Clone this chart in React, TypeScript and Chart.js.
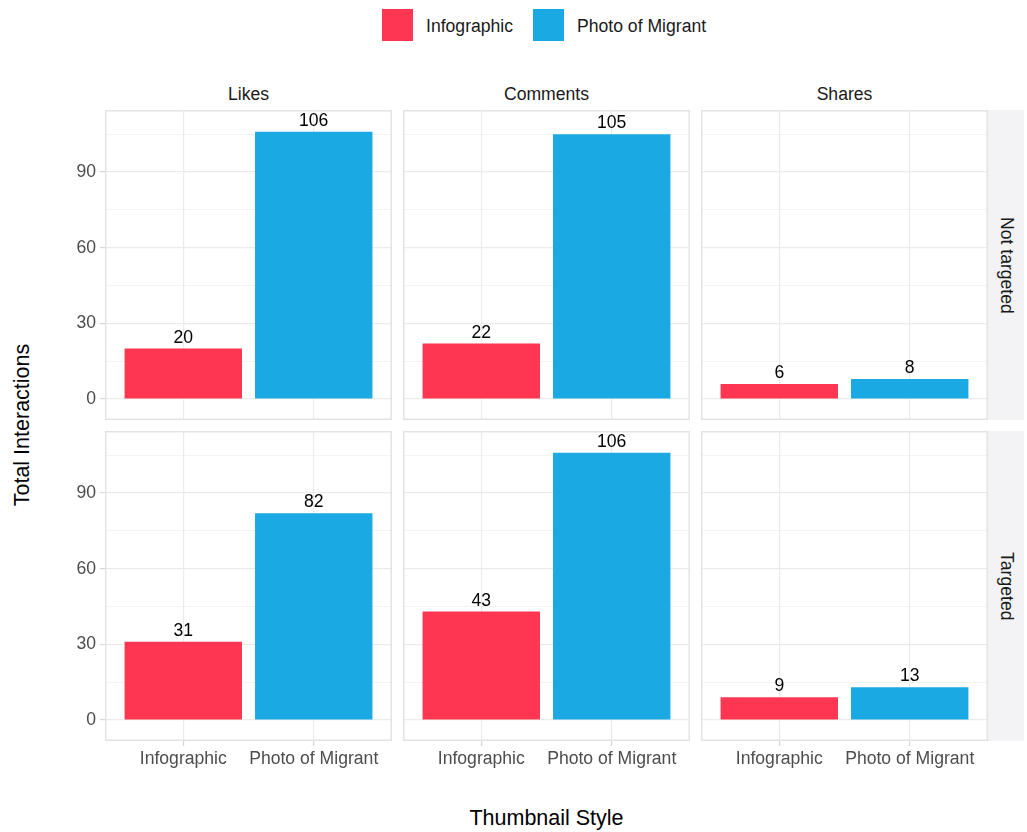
import React, { useEffect, useRef } from 'react';
import { Chart, registerables } from 'chart.js';
Chart.register(...registerables);

// ---- data ----
const metrics = ['Likes', 'Comments', 'Shares'];
const audiences = ['Not targeted', 'Targeted'];
const thumbnailStyles = ['Infographic', 'Photo of Migrant'];
const notTargetedInfographic = [20, 22, 6];
const notTargetedPhoto = [106, 105, 8];
const targetedInfographic = [31, 43, 9];
const targetedPhoto = [82, 106, 13];
const yTickValues = [0, 15, 30, 45, 60, 75, 90, 105];
const styleColors = ['#FF3651', '#1AA9E3'];

// ---- layout ----
const FONT = '"Liberation Sans", Arial, Helvetica, sans-serif';
const FS = 17.6;
const colLeft = [105, 403, 701];
const rowTop = [110, 431];
const panelW = 287;
const panelH = 310;
const AXW = 60;
const AXH = 40;

const seriesFor = (row: number, col: number): number[] =>
  row === 0
    ? [notTargetedInfographic[col], notTargetedPhoto[col]]
    : [targetedInfographic[col], targetedPhoto[col]];

function Panel({ row, col }: { row: number; col: number }) {
  const ref = useRef<HTMLCanvasElement | null>(null);
  const values = seriesFor(row, col);
  const width = panelW + AXW;
  const height = panelH + (row === 1 ? AXH : 0);

  useEffect(() => {
    if (!ref.current) return;
    const labelPlugin = {
      id: 'labelsAndBorder',
      afterDatasetsDraw(chart: any) {
        const ctx = chart.ctx;
        const meta = chart.getDatasetMeta(0);
        ctx.save();
        ctx.font = `${FS}px ${FONT}`;
        ctx.fillStyle = '#000000';
        ctx.textAlign = 'center';
        ctx.textBaseline = 'alphabetic';
        meta.data.forEach((bar: any, i: number) => {
          ctx.fillText(String(values[i]), bar.x, bar.y - 6);
        });
        ctx.restore();
      },
      afterDraw(chart: any) {
        const ctx = chart.ctx;
        const a = chart.chartArea;
        ctx.save();
        ctx.strokeStyle = '#E3E3E3';
        ctx.lineWidth = 1.5;
        ctx.strokeRect(a.left + 0.75, a.top + 0.75, a.right - a.left - 1.5, a.bottom - a.top - 1.5);
        ctx.restore();
      },
    };
    const chart = new Chart(ref.current, {
      type: 'bar',
      data: {
        datasets: [
          {
            data: values.map((v, i) => ({ x: i + 1, y: v })),
            backgroundColor: styleColors,
            borderWidth: 0,
            barPercentage: 0.9,
            categoryPercentage: 1,
          },
        ],
      },
      options: {
        responsive: false,
        animation: false,
        devicePixelRatio: 1,
        events: [],
        layout: { padding: 0 },
        plugins: { legend: { display: false }, tooltip: { enabled: false } },
        scales: {
          x: {
            type: 'linear',
            offset: false,
            min: 0.4,
            max: 2.6,
            afterBuildTicks: (s: any) => {
              s.ticks = [{ value: 1 }, { value: 2 }];
            },
            ticks: {
              display: row === 1,
              autoSkip: false,
              maxRotation: 0,
              padding: 3,
              color: '#4D4D4D',
              font: { family: FONT, size: FS },
              callback: (v: any) => thumbnailStyles[Number(v) - 1] ?? '',
            },
            grid: {
              offset: false,
              color: '#EBEBEB',
              lineWidth: 1.2,
              drawTicks: row === 1,
              tickLength: 5,
              tickColor: '#D6D6D6',
            },
            border: { display: false },
            afterFit: (s: any) => {
              s.height = row === 1 ? AXH : 0;
              s.paddingLeft = 0;
              s.paddingRight = 0;
            },
          } as any,
          y: {
            type: 'linear',
            min: -8.3,
            max: 114.6,
            afterBuildTicks: (s: any) => {
              s.ticks = yTickValues.map((v) => ({ value: v }));
            },
            ticks: {
              display: col === 0,
              padding: 4,
              color: '#4D4D4D',
              font: { family: FONT, size: FS },
              callback: (v: any) => (Number(v) % 30 === 0 ? String(v) : ''),
            },
            grid: {
              color: '#EBEBEB',
              lineWidth: (c: any) => (c.tick && c.tick.value % 30 === 0 ? 1.2 : 0.6),
              drawTicks: col === 0,
              tickLength: 5,
              tickColor: (c: any) => (c.tick && c.tick.value % 30 === 0 ? '#D6D6D6' : 'rgba(0,0,0,0)'),
            },
            border: { display: false },
            afterFit: (s: any) => {
              s.width = AXW;
              s.paddingTop = 0;
              s.paddingBottom = 0;
            },
          } as any,
        },
      },
      plugins: [labelPlugin],
    } as any);
    return () => chart.destroy();
  }, [row, col]);

  return (
    <canvas
      ref={ref}
      width={width}
      height={height}
      style={{
        position: 'absolute',
        left: colLeft[col] - AXW,
        top: rowTop[row],
        width,
        height,
      }}
    />
  );
}

export default function App() {
  const text = (s: React.CSSProperties): React.CSSProperties => ({
    position: 'absolute',
    fontFamily: FONT,
    whiteSpace: 'nowrap',
    ...s,
  });
  return (
    <div
      style={{
        position: 'absolute',
        left: 0,
        top: 0,
        width: 1027,
        height: 832,
        background: '#FFFFFF',
        overflow: 'hidden',
      }}
    >
      {/* legend */}
      <div style={{ position: 'absolute', left: 382, top: 9, width: 31, height: 32, background: styleColors[0] }} />
      <div style={text({ left: 426, top: 15, fontSize: FS, lineHeight: '22px', color: '#1A1A1A' })}>
        {thumbnailStyles[0]}
      </div>
      <div style={{ position: 'absolute', left: 533, top: 9, width: 31, height: 32, background: styleColors[1] }} />
      <div style={text({ left: 577, top: 15, fontSize: FS, lineHeight: '22px', color: '#1A1A1A' })}>
        {thumbnailStyles[1]}
      </div>

      {/* column strips */}
      {metrics.map((m, c) => (
        <div
          key={m}
          style={text({
            left: colLeft[c],
            top: 83,
            width: panelW,
            textAlign: 'center',
            fontSize: FS,
            lineHeight: '22px',
            color: '#1A1A1A',
          })}
        >
          {m}
        </div>
      ))}

      {/* row strips */}
      {audiences.map((a, r) => (
        <div
          key={a}
          style={{
            position: 'absolute',
            left: 988,
            top: rowTop[r],
            width: 36,
            height: panelH,
            background: '#F3F3F5',
            display: 'flex',
            alignItems: 'center',
            justifyContent: 'center',
          }}
        >
          <span
            style={{
              writingMode: 'vertical-rl',
              fontFamily: FONT,
              fontSize: FS,
              color: '#1A1A1A',
              whiteSpace: 'nowrap',
            }}
          >
            {a}
          </span>
        </div>
      ))}

      {/* panels */}
      {[0, 1].map((r) => [0, 1, 2].map((c) => <Panel key={`${r}-${c}`} row={r} col={c} />))}

      {/* axis titles */}
      <div style={text({ left: 105, width: 883, top: 805, textAlign: 'center', fontSize: 21.5, lineHeight: '26px', color: '#000' })}>
        Thumbnail Style
      </div>
      <div
        style={text({
          left: 22 - 100,
          top: 425 - 13,
          width: 200,
          height: 26,
          textAlign: 'center',
          fontSize: 21.5,
          lineHeight: '26px',
          color: '#000',
          transform: 'rotate(-90deg)',
        })}
      >
        Total Interactions
      </div>
    </div>
  );
}
